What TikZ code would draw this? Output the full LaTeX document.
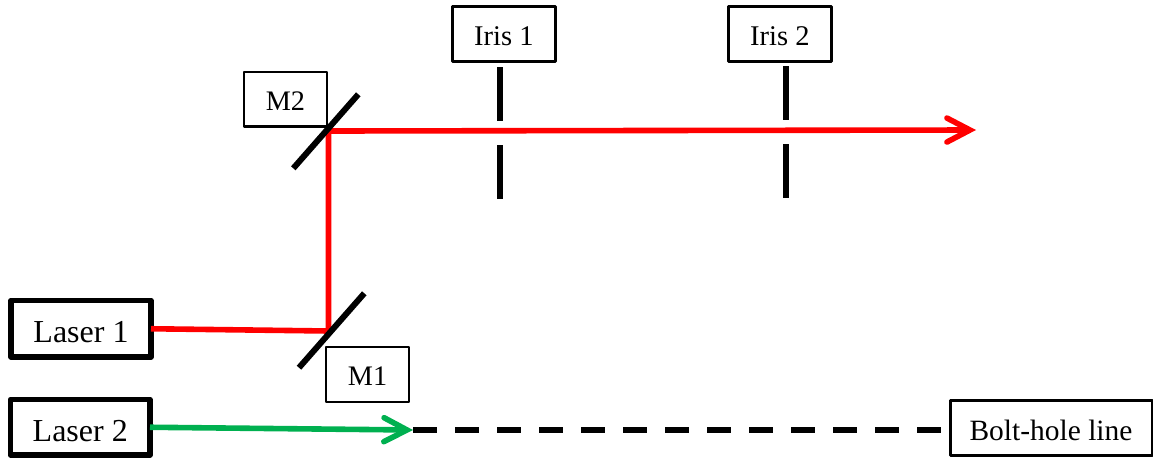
\documentclass[tikz,border=0pt]{standalone}
\usepackage{fontspec}
\setmainfont{Liberation Serif}
\usetikzlibrary{arrows.meta}
\definecolor{beamred}{RGB}{255,0,0}
\definecolor{beamgreen}{RGB}{0,176,80}
\def\px{0.75pt}
\tikzset{
  x=0.75pt,y=-0.75pt,
  labelbox/.style={draw=black,line width=2.2*\px,line join=round,inner sep=0pt,outer sep=0pt,fill=white,text depth=0pt,text height=17.2pt,font=\fontsize{21.2}{24}\selectfont},
  irisbox/.style={labelbox,line width=3*\px,text height=16.5pt,font=\fontsize{21.4}{24}\selectfont,minimum width=102.5*\px,minimum height=54.5*\px},
  mirrorbox/.style={labelbox,minimum width=82.5*\px,minimum height=54.5*\px},
  laserbox/.style={draw=black,line width=5.6*\px,line join=round,inner sep=0pt,outer sep=0pt,fill=white,text depth=0pt,text height=21.3pt,font=\fontsize{24}{27}\selectfont},
  boltbox/.style={labelbox,line width=3*\px,text height=18pt,font=\fontsize{22.1}{25}\selectfont,minimum width=202*\px,minimum height=54.5*\px},
  beam/.style={line width=5.6*\px,line join=round},
  beamtip/.style={-{Straight Barb[length=23*\px,width=24*\px,line cap=round,line join=miter]}},
  mirror/.style={draw=black,line width=6*\px},
  irisbar/.style={draw=black,line width=6*\px},
  boltdash/.style={draw=black,line width=5.4*\px,dash pattern=on 24*\px off 18*\px},
}
\begin{document}
\begin{tikzpicture}
\useasboundingbox (0,0) rectangle (1153,458);
\node[laserbox,minimum width=140*\px,minimum height=56.5*\px] (laser1) at (81,328.75) {Laser 1};
\node[laserbox,minimum width=139.5*\px,minimum height=55.5*\px] (laser2) at (80.25,427.25) {Laser 2};
\node[mirrorbox] (m1) at (367.5,374.5) {M1};
\node[mirrorbox] (m2) at (285.4,99.25) {M2};
\node[irisbox] (iris1) at (503.8,34) {Iris 1};
\node[irisbox] (iris2) at (779.8,34) {Iris 2};
\node[boltbox] (bolt) at (1051,428) {Bolt-hole line};
\coordinate (j1) at (328.5,331);
\coordinate (j2) at (328.5,131);
\coordinate (redend) at (976,130);
\coordinate (greenend) at (413,430);
\coordinate (m1a) at (364.3,293.3);
\coordinate (m1b) at (299,367.7);
\coordinate (m2a) at (358.3,94.3);
\coordinate (m2b) at (293.3,168.3);
\coordinate (i1a) at (500,67.3);
\coordinate (i1b) at (500,121.3);
\coordinate (i1c) at (500,145);
\coordinate (i1d) at (500,199.3);
\coordinate (i2a) at (785.7,66);
\coordinate (i2b) at (785.7,120);
\coordinate (i2c) at (785.7,144);
\coordinate (i2d) at (785.7,198);
\draw[boltdash] (greenend) -- (greenend -| bolt.west);
\draw[beam,beamred,beamtip] (laser1.east) -- (j1) -- (j2) -- (redend);
\draw[beam,beamgreen,beamtip] (laser2.east) -- (greenend);
\draw[mirror] (m1a) -- (m1b);
\draw[mirror] (m2a) -- (m2b);
\draw[irisbar] (i1a) -- (i1b);
\draw[irisbar] (i1c) -- (i1d);
\draw[irisbar] (i2a) -- (i2b);
\draw[irisbar] (i2c) -- (i2d);
\end{tikzpicture}
\end{document}
